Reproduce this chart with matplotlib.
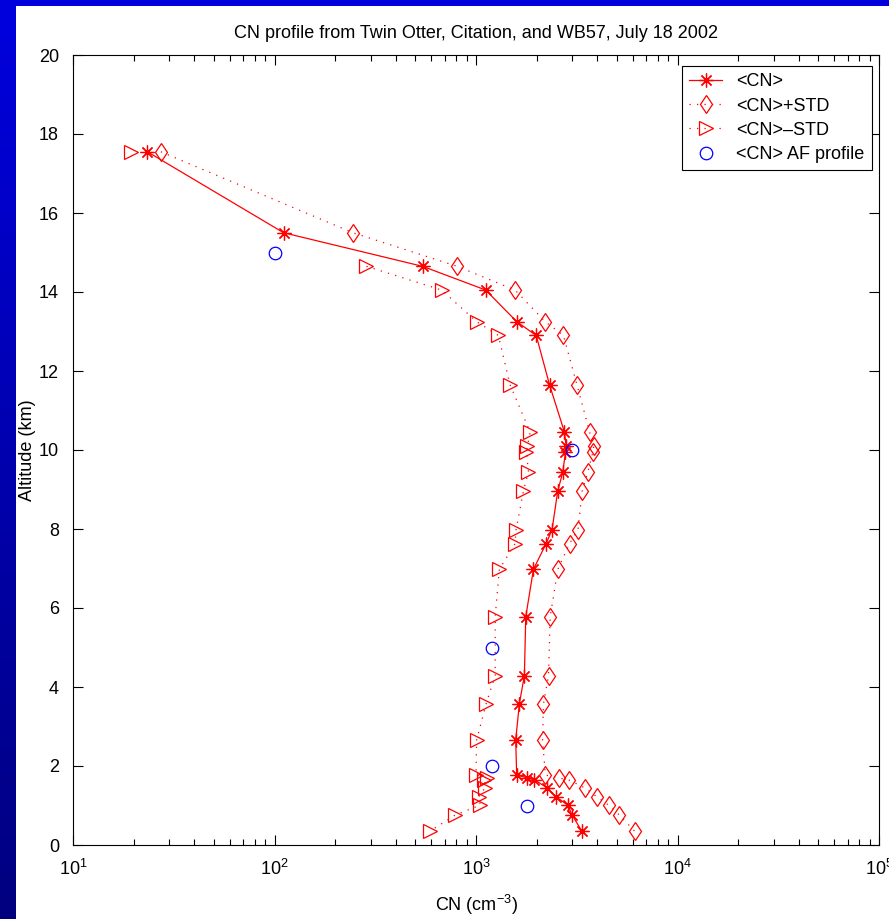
#!/usr/bin/env python3
"""
CN profile from Twin Otter, Citation and WB57 (July 18 2002), redrawn
as a matlab-style log-x altitude profile on a blue slide background.
"""

import numpy as np
import matplotlib
matplotlib.use("Agg")
import matplotlib.pyplot as plt
from matplotlib.patches import Rectangle
from matplotlib.ticker import LogLocator, FixedLocator, NullFormatter


# ===============================================================
# Data
# ===============================================================

altitude = [17.55, 15.5, 14.65, 14.05, 13.25, 12.9, 11.65, 10.45, 10.1, 9.95,
            9.45, 8.95, 7.98, 7.63, 6.98, 5.78, 4.29, 3.57, 2.66, 1.77,
            1.70, 1.65, 1.45, 1.22, 1.01, 0.76, 0.35]

cn_mean = [23.4, 111, 543, 1117, 1592, 1990, 2317, 2749, 2800, 2780,
           2698, 2543, 2384, 2228, 1928, 1766, 1738, 1641, 1574, 1592,
           1800, 1950, 2250, 2500, 2850, 3000, 3350]

cn_plus_std = [27.3, 245, 807, 1563, 2203, 2716, 3170, 3666, 3840, 3800,
               3597, 3361, 3206, 2911, 2548, 2334, 2290, 2162, 2139, 2210,
               2570, 2880, 3460, 3980, 4550, 5140, 6130]

# mean - std is negative at 15.5 km, so matlab drops it on the log axis
cn_minus_std = [19.4, np.nan, 286, 675, 1007, 1291, 1476, 1857, 1800, 1780,
                1821, 1718, 1581, 1563, 1306, 1245, 1245, 1122, 1007, 1000,
                1130, 1100, 1110, 1030, 1050, 790, 590]

af_altitude = [15, 10, 5, 2, 1]
af_cn = [100, 3000, 1200, 1200, 1800]

x_ticks = [1e1, 1e2, 1e3, 1e4, 1e5]
x_tick_labels = [r"$10^{1}$", r"$10^{2}$", r"$10^{3}$", r"$10^{4}$", r"$10^{5}$"]
y_ticks = list(range(0, 21, 2))

title = "CN profile from Twin Otter, Citation, and WB57, July 18 2002"


# ===============================================================
# Plotting
# ===============================================================

def add_background(fig):
    """Blue slide frame (gradient on the left) behind a white plot area."""
    bg = fig.add_axes([0, 0, 1, 1], zorder=-10)
    grad = np.linspace(0, 1, 256).reshape(-1, 1)
    top = np.array([0.0, 0.0, 0.87])
    bottom = np.array([0.0, 0.0, 0.50])
    img = top + (bottom - top) * grad[:, :, None]
    bg.imshow(img, aspect="auto", extent=[0, 1, 0, 1], origin="upper")
    bg.add_patch(Rectangle((16 / 889, 0), 1, 1 - 6 / 919,
                           facecolor="white", edgecolor="none"))
    bg.set_xlim(0, 1)
    bg.set_ylim(0, 1)
    bg.axis("off")


def plot_profile(output_path):
    plt.rcParams["font.family"] = ["Liberation Sans", "DejaVu Sans"]
    plt.rcParams["mathtext.fontset"] = "custom"
    plt.rcParams["mathtext.rm"] = "Liberation Sans"
    plt.rcParams["mathtext.it"] = "Liberation Sans:italic"

    fig = plt.figure(figsize=(8.89, 9.19), dpi=100)
    add_background(fig)

    ax = fig.add_axes([73 / 889, 1 - 845 / 919, 806 / 889, 790 / 919])
    ax.set_xscale("log")

    red = (1, 0, 0)
    star = (8, 2, 0)
    ax.plot(cn_mean, altitude, color=red, lw=0.9, marker=star,
            markersize=10, markeredgewidth=0.9, label="<CN>")
    ax.plot(cn_plus_std, altitude, color=red, lw=0.9, ls=(0, (1, 5)),
            marker="d", markersize=9.5, markerfacecolor="none",
            markeredgewidth=0.9, label="<CN>+STD")
    ax.plot(cn_minus_std, altitude, color=red, lw=0.9, ls=(0, (1, 5)),
            marker=">", markersize=10, markerfacecolor="none",
            markeredgewidth=0.9, label="<CN>\u2013STD")
    ax.plot(af_cn, af_altitude, ls="none", marker="o", markersize=9,
            markerfacecolor="none", markeredgecolor=(0, 0, 1),
            markeredgewidth=0.9, label="<CN> AF profile")

    # Axes formatting (matlab look: box, inward ticks on all sides)
    ax.set_xlim(1e1, 1e5)
    ax.set_ylim(0, 20)
    ax.xaxis.set_major_locator(FixedLocator(x_ticks))
    ax.set_xticklabels(x_tick_labels)
    ax.xaxis.set_minor_locator(LogLocator(base=10, subs=np.arange(2, 10)))
    ax.xaxis.set_minor_formatter(NullFormatter())
    ax.set_yticks(y_ticks)
    ax.tick_params(which="both", direction="in", top=True, right=True,
                   labelsize=13, width=0.8)
    ax.tick_params(which="major", length=7, pad=10)
    ax.tick_params(which="minor", length=4)
    for spine in ax.spines.values():
        spine.set_linewidth(0.8)

    ax.set_title(title, fontsize=13, pad=12)
    ax.set_xlabel(r"CN (cm$^{-3}$)", fontsize=13, labelpad=10)
    ax.set_ylabel("Altitude (km)", fontsize=13, labelpad=2)

    leg = ax.legend(loc="upper right", bbox_to_anchor=(0.991, 0.986),
                    borderaxespad=0, fontsize=13, fancybox=False,
                    framealpha=1, edgecolor="black", handlelength=1.8,
                    labelspacing=0.4, borderpad=0.4)
    leg.get_frame().set_linewidth(0.8)

    fig.savefig(output_path, dpi=100)
    plt.close(fig)


def main():
    plot_profile("out.png")


if __name__ == "__main__":
    main()
